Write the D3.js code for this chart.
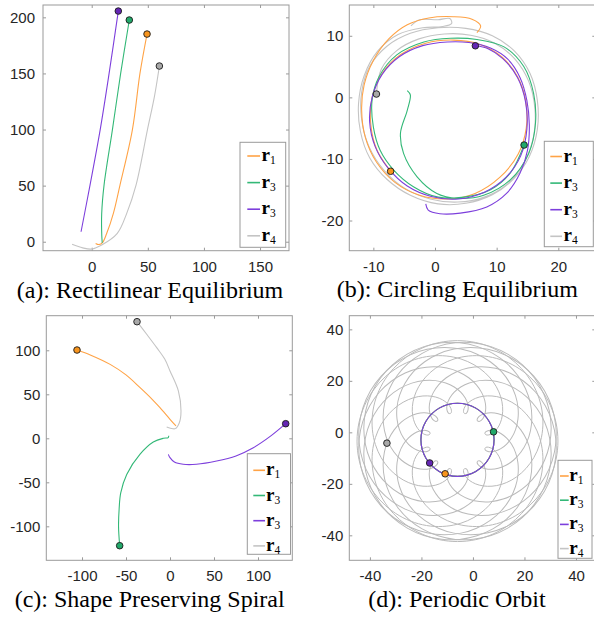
<!DOCTYPE html>
<html><head><meta charset="utf-8">
<script src="https://cdn.jsdelivr.net/npm/d3@7"></script>
<style>body{margin:0;background:#fff}svg{display:block}</style>
</head><body>
<script>
// ---------- shared ----------
const seriesLetters = ["r","r","r","r"];
const seriesSubs = ["1","3","3","4"];
const seriesColors = ["#ffa346","#33b877","#7d3fdc","#c4c4c4"];
const markerColors = ["#f7941d","#22a86a","#6426b4","#a8a8a8"];
const captions = ["(a): Rectilinear Equilibrium","(b): Circling Equilibrium","(c): Shape Preserving Spiral","(d): Periodic Orbit"];

// ---------- (a) Rectilinear Equilibrium ----------
const aXTicks = [0,50,100,150];
const aYTicks = [0,50,100,150,200];
const aOrange = [[49.3,185.1],[43,150],[36.2,99.5],[25.2,50.5],[19.3,25.3],[13.4,7.5],[9.8,-0.5],[6.5,-2.5],[3.5,-1.5]];
const aGreen  = [[33.5,197.6],[25.8,150],[18.4,99.5],[11,50.5],[8.9,25],[9.0,5],[9.4,-1]];
const aPurple = [[23.7,205.6],[15.5,150],[7.5,99.5],[-1.5,50.5],[-9.5,8.9]];
const aGray   = [[60.3,156.6],[56,130],[49.6,99.5],[39.5,50.5],[31.2,25.3],[22.8,7.5],[8.9,-2.9],[0,-6.5],[-8,-5.5],[-17.5,-2.3]];
const aMarkers = [[49.3,185.1],[33.5,197.6],[23.7,205.6],[60.3,156.6]];

// ---------- (b) Circling Equilibrium ----------
const bXTicks = [-10,0,10,20];
const bYTicks = [-20,-10,0,10];
const bOrange = [[6.8,10.5],[7.4,11.6],[6.0,12.7],[3,13.1],[-1,12.9],[-4.5,11.8],[-7.5,9.5],[-10,6.0],[-11.5,2],[-11.9,-2],[-11.3,-6.5],[-9.5,-10.5],[-6.5,-13.8],[-2.5,-15.9],[2,-16.5],[6.5,-15.6],[10.5,-13],[13.5,-9.2],[14.8,-5],[14.7,-0.5],[13.3,3.5],[10.8,6.6],[7.3,8.6],[3,9.3],[-1.5,8.8],[-5.5,7.0],[-8.5,4.0],[-10.2,0],[-10.4,-4.5],[-9.4,-8.6],[-7.2,-12.0]];
const bGreen = [[-4.5,1.1],[-4.0,0.4],[-4.5,-2.1],[-5.6,-5.8],[-5.1,-9.1],[-2.9,-12.9],[0.3,-15.6],[3.6,-16.4],[7.9,-15.9],[12.2,-13.4],[15.2,-9.1],[16.3,-4.2],[16.0,0.6],[14.4,5.0],[11.2,8.2],[6.8,9.4],[2.5,9.6],[-1.8,9.0],[-6.2,6.9],[-9.1,3.3],[-10.2,-0.4],[-10.0,-4.8],[-8.9,-8.6],[-6.7,-11.8],[-3.5,-14.5],[0.5,-16.2],[4.7,-16.2],[9.0,-15],[12.2,-12.3],[14.45,-7.74]];
const bPurple = [[-1.5,-17.3],[-1.1,-18.3],[0.8,-18.9],[4.1,-18.8],[8.4,-17.8],[11.6,-15.6],[13.8,-12.3],[15.0,-8.6],[15.3,-4.5],[14.9,-0.5],[13.8,3.2],[11.8,6.2],[9.0,8.0],[5.5,8.9],[2,9.0],[-2,8.4],[-5.8,6.6],[-8.6,3.7],[-10.2,0],[-10.6,-4],[-9.7,-8],[-7.6,-11.5],[-4.5,-14.4],[-0.6,-16.1],[3.8,-16.5],[8,-15.4],[11.5,-13],[13.9,-9.5],[14.9,-5.2],[14.7,-0.8],[13.4,3.2],[11,6.3],[8.6,7.9],[6.55,8.38]];
const bGray = [[-3.9,11.6],[-2.5,12.6],[0.5,12.6],[2.4,12.8],[2.7,12.0],[1.2,11.5],[-2,11.3],[-6,10.2],[-9.3,7.5],[-11.5,3.5],[-12.4,-1],[-12.1,-5.5],[-10.6,-9.8],[-7.8,-13.3],[-4,-15.9],[0.5,-17.3],[5,-17.2],[9.3,-15.8],[12.8,-13.2],[15.3,-9.6],[16.6,-5.2],[16.6,-0.5],[15.4,3.9],[12.9,7.5],[9.3,10.0],[5,11.2],[0.5,11.3],[-4,10.4],[-7.8,8.3],[-10.6,5],[-11.9,0.8],[-11.9,-3.6],[-10.7,-8],[-8.3,-11.8],[-5,-14.7],[-0.8,-16.5],[3.7,-17],[8,-16.2],[11.8,-14],[14.5,-10.5],[16,-6.3],[16.2,-1.8],[15.2,2.6],[12.9,6.3],[9.7,8.8],[5.8,10.1],[1.5,10.3],[-2.6,9.5],[-6.2,7.6],[-8.7,4.6],[-9.5,0.54]];
const bMarkers = [[-7.2,-12.0],[14.45,-7.74],[6.55,8.38],[-9.5,0.54]];

// ---------- (c) Shape Preserving Spiral ----------
const cXTicks = [-100,-50,0,50,100];
const cYTicks = [-100,-50,0,50,100];
const cOrange = [[-105.7,100.3],[-90,94.5],[-68,84],[-50,72],[-34,57.5],[-20,44],[-11.4,34.8],[0,21.6],[6.8,14]];
const cGreen  = [[-57.2,-122],[-58.5,-100],[-57.8,-80],[-56,-62],[-49.2,-41],[-34,-18],[-19,-4.2],[-7.6,0],[-2,0.8],[-1.5,3]];
const cPurple = [[131.5,16.6],[115,3],[94.7,-10.7],[75,-20],[53,-25.8],[30,-29.5],[15,-29.5],[5,-27],[0,-22],[-1.9,-18.2]];
const cGray   = [[-37.5,132.5],[-26.5,118.2],[-15.1,103],[-6,90],[0,76.5],[9.5,53.8],[12.5,31],[10.6,17.7],[6,11],[0.5,11.5],[-3.8,12.8]];
const cMarkers = [[-105.7,100.3],[-57.2,-122],[131.5,16.6],[-37.5,132.5]];

// ---------- (d) Periodic Orbit ----------
const dXTicks = [-40,-20,0,20,40];
const dYTicks = [-40,-20,0,20,40];
const dCircle = [[8.2,-2.9],[6.3,4.2],[1.1,9.4],[-6,11.3],[-13.1,9.4],[-18.3,4.2],[-20.2,-2.9],[-18.3,-10.0],[-13.1,-15.2],[-6,-17.1],[1.1,-15.2],[6.3,-10.0]];
const dRosetteCenter = [-6,-3.4];
// one lobe of the r4 rosette, relative to its centre (far point on +x)
const dLobe = [[-10.63,-2.85],[-11.06,-2.42],[-11.99,-2.37],[-13.27,-2.85],[-14.70,-4.00],[-16.05,-5.86],[-17.08,-8.42],[-17.55,-11.60],[-17.27,-15.24],[-16.07,-19.12],[-13.86,-23.01],[-10.62,-26.61],[-6.40,-29.66],[-1.33,-31.89],[4.38,-33.05],[10.48,-33.01],[16.68,-31.64],[22.65,-28.93],[28.07,-24.94],[32.64,-19.81],[36.10,-13.76],[38.27,-7.05],[39,0],[38.27,7.05],[36.10,13.76],[32.64,19.81],[28.07,24.94],[22.65,28.93],[16.68,31.64],[10.48,33.01],[4.38,33.05],[-1.33,31.89],[-6.40,29.66],[-10.62,26.61],[-13.86,23.01],[-16.07,19.12],[-17.27,15.24],[-17.55,11.60],[-17.08,8.42],[-16.05,5.86],[-14.70,4.00],[-13.27,2.85],[-11.99,2.37],[-11.06,2.42],[-10.63,2.85]];
const dLobeAngles = [0,30,60,90,120,150,180,210,240,270,300,330];
const dMarkers = [[-10.8,-16.1],[8.0,0.2],[-16.8,-11.9],[-33.4,-4.2]];

// ---------- drawing ----------
const svg = d3.select("body").append("svg").attr("width",594).attr("height",622);
const AX = "#9a9a9a";

const panels = [
  {id:"a", x0:43, x1:289, y0:5, y1:250.7, xd:[-43.4,175.8], yd:[-8.0,211.0], xt:aXTicks, yt:aYTicks,
   series:[aOrange,aGreen,aPurple,aGray], markers:aMarkers, ypad:8,
   leg:{x0:240,y0:142.3,x1:285.7,y1:247.3,lx0:247.3,lx1:260,tx:261.5,r0:156,dr:26.6},
   cap:captions[0], capX:150, capY:298},
  {id:"b", x0:349.3, x1:595.3, y0:5, y1:250.7, xd:[-13.9,26.0], yd:[-24.9,15.0], xt:bXTicks, yt:bYTicks,
   series:[bOrange,bGreen,bPurple,bGray], markers:bMarkers, ypad:6,
   leg:{x0:544.3,y0:141.3,x1:593.3,y1:246.7,lx0:550.3,lx1:562,tx:563.5,r0:156.5,dr:26.6},
   cap:captions[1], capX:457.3, capY:297},
  {id:"c", x0:46.3, x1:292.3, y0:315.7, y1:560.3, xd:[-140.6,139.0], yd:[-138.6,139.3], xt:cXTicks, yt:cYTicks,
   series:[cOrange,cGreen,cPurple,cGray], markers:cMarkers, ypad:6,
   leg:{x0:247.3,y0:453.7,x1:290.5,y1:554.3,lx0:253.3,lx1:265,tx:266,r0:470.3,dr:25.2},
   cap:captions[2], capX:149.7, capY:606.5},
  {id:"d", x0:349.3, x1:595.3, y0:315.7, y1:560.3, xd:[-48.0,47.5], yd:[-49.7,45.3], xt:dXTicks, yt:dYTicks,
   series:[dCircle,dCircle,dCircle,null], markers:dMarkers, ypad:6,
   leg:{x0:558,y0:460.3,x1:592,y1:558.3,lx0:560,lx1:568.7,tx:569.3,r0:476,dr:24.2},
   cap:captions[3], capX:457, capY:606.5}
];

panels.forEach(p => {
  const xs = d3.scaleLinear().domain(p.xd).range([p.x0,p.x1]);
  const ys = d3.scaleLinear().domain(p.yd).range([p.y1,p.y0]);
  const g = svg.append("g");

  g.append("clipPath").attr("id","clip"+p.id).append("rect")
    .attr("x",p.x0).attr("y",p.y0).attr("width",p.x1-p.x0).attr("height",p.y1-p.y0);

  const tickStyle = sel => {
    sel.select(".domain").remove();
    sel.selectAll(".tick line").attr("stroke",AX);
    sel.selectAll(".tick text").attr("fill","#262626").attr("font-family","'Liberation Sans', Arial, sans-serif").attr("font-size",15);
  };
  g.append("g").attr("transform",`translate(0,${p.y1})`)
    .call(d3.axisBottom(xs).tickValues(p.xt).tickSizeInner(-3).tickSizeOuter(0).tickPadding(10.5).tickFormat(d3.format("d")))
    .call(tickStyle);
  g.append("g").attr("transform",`translate(0,${p.y0})`)
    .call(d3.axisTop(xs).tickValues(p.xt).tickSizeInner(-3).tickSizeOuter(0).tickFormat(""))
    .call(tickStyle);
  g.append("g").attr("transform",`translate(${p.x0},0)`)
    .call(d3.axisLeft(ys).tickValues(p.yt).tickSizeInner(-3).tickSizeOuter(0).tickPadding(p.ypad).tickFormat(d3.format("d")))
    .call(tickStyle);
  g.append("g").attr("transform",`translate(${p.x1},0)`)
    .call(d3.axisRight(ys).tickValues(p.yt).tickSizeInner(-3).tickSizeOuter(0).tickFormat(""))
    .call(tickStyle);
  g.selectAll(".tick text").text(function(){ return this.textContent.replace("−","-"); });

  const plot = g.append("g").attr("clip-path",`url(#clip${p.id})`);
  const line = d3.line().x(d=>xs(d[0])).y(d=>ys(d[1])).curve(d3.curveCatmullRom.alpha(0.5));

  if (p.id === "d") {
    const c = dRosetteCenter;
    const cx = xs(c[0]), cy = ys(c[1]);
    const lobeLine = d3.line().x(d=>xs(c[0]+d[0])).y(d=>ys(c[1]+d[1])).curve(d3.curveCatmullRom.alpha(0.5));
    plot.selectAll("path.lobe").data(dLobeAngles).enter().append("path")
      .attr("class","lobe")
      .attr("d",lobeLine(dLobe))
      .attr("transform",a=>`rotate(${-a},${cx},${cy})`)
      .attr("fill","none").attr("stroke","#bababa").attr("stroke-width",1);
    const closed = d3.line().x(d=>xs(d[0])).y(d=>ys(d[1])).curve(d3.curveCatmullRomClosed.alpha(0.5));
    [0,1,2].forEach(i => {
      plot.append("path").attr("d",closed(p.series[i])).attr("fill","none")
        .attr("stroke",seriesColors[i]).attr("stroke-width",1.1);
    });
  } else {
    [3,0,1,2].forEach(i => {
      plot.append("path").attr("d",line(p.series[i])).attr("fill","none")
        .attr("stroke",seriesColors[i]).attr("stroke-width",1.1);
    });
  }

  [3,0,1,2].forEach(i => {
    const m = p.markers[i];
    g.append("circle").attr("cx",xs(m[0])).attr("cy",ys(m[1])).attr("r",3.3)
      .attr("fill",markerColors[i]).attr("stroke","#1a1a1a").attr("stroke-width",0.9);
  });

  g.append("rect").attr("x",p.x0).attr("y",p.y0).attr("width",p.x1-p.x0).attr("height",p.y1-p.y0)
    .attr("fill","none").attr("stroke",AX).attr("stroke-width",1);

  const L = p.leg;
  g.append("rect").attr("x",L.x0).attr("y",L.y0).attr("width",L.x1-L.x0).attr("height",L.y1-L.y0)
    .attr("fill","#fff").attr("stroke",AX).attr("stroke-width",1);
  seriesLetters.forEach((s,i) => {
    const yy = L.r0 + i*L.dr;
    g.append("line").attr("x1",L.lx0).attr("x2",L.lx1).attr("y1",yy).attr("y2",yy)
      .attr("stroke",seriesColors[i]).attr("stroke-width",1.6);
    const t = g.append("text").attr("x",L.tx).attr("y",yy+5)
      .attr("font-family","'Liberation Serif', 'Times New Roman', serif").attr("fill","#000");
    t.append("tspan").attr("font-weight","bold").attr("font-size",19).text(s);
    t.append("tspan").attr("font-size",11.5).attr("dy",3).text(seriesSubs[i]);
  });

  svg.append("text").attr("x",p.capX).attr("y",p.capY).attr("text-anchor","middle")
    .attr("font-family","'Liberation Serif', 'Times New Roman', serif").attr("font-size",24)
    .attr("fill","#000").text(p.cap);
});
</script>
</body></html>
